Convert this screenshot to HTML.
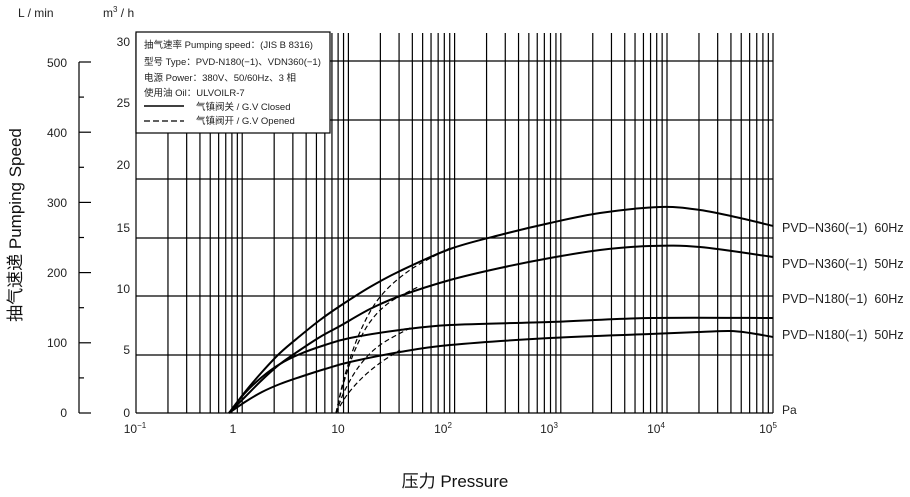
<!DOCTYPE html>
<html><head><meta charset="utf-8"><style>
html,body{margin:0;padding:0;background:#fff;}
svg{display:block;font-family:"Liberation Sans","Noto Sans CJK SC",sans-serif;}
</style></head><body>
<svg id="s" width="910" height="497" viewBox="0 0 910 497" xmlns="http://www.w3.org/2000/svg">
<g id="grid" stroke="#000" stroke-width="1.2" fill="none"></g>
<g stroke="#000" stroke-width="1.2">
<line x1="136" y1="413" x2="773" y2="413"/>
<line x1="136" y1="355" x2="773" y2="355"/>
<line x1="136" y1="296" x2="773" y2="296"/>
<line x1="136" y1="238" x2="773" y2="238"/>
<line x1="136" y1="179" x2="773" y2="179"/>
<line x1="136" y1="120" x2="773" y2="120"/>
<line x1="136" y1="61" x2="773" y2="61"/>
<line x1="79" y1="62" x2="79" y2="413"/>
</g>
<g id="lticks" stroke="#000" stroke-width="1.2"></g>
<g id="curves" stroke="#000" stroke-width="2" fill="none"></g>
<g id="dcurves" stroke="#000" stroke-width="1.2" fill="none" stroke-dasharray="5,3"></g>
<rect x="136" y="32" width="194" height="101" fill="#fff" stroke="#000" stroke-width="1.2"/>
<g font-size="9.5" fill="#222">
<text x="144" y="48">抽气速率 Pumping speed：(JIS B 8316)</text>
<text x="144" y="65">型号 Type：PVD-N180(−1)、VDN360(−1)</text>
<text x="144" y="81">电源 Power：380V、50/60Hz、3 相</text>
<text x="144" y="96">使用油 Oil：ULVOILR-7</text>
<text x="196" y="110">气镇阀关 / G.V Closed</text>
<text x="196" y="124">气镇阀开 / G.V Opened</text>
</g>
<line x1="144" y1="106" x2="184" y2="106" stroke="#000" stroke-width="1.5"/>
<line x1="144" y1="121" x2="184" y2="121" stroke="#000" stroke-width="1.2" stroke-dasharray="6,3"/>
<g font-size="12" fill="#222">
<text x="18" y="17">L / min</text>
<text x="103" y="17">m<tspan font-size="8" dy="-5">3</tspan><tspan dy="5"> / h</tspan></text>
<g text-anchor="end">
<text x="67" y="67">500</text><text x="67" y="137">400</text><text x="67" y="207">300</text>
<text x="67" y="277">200</text><text x="67" y="347">100</text><text x="67" y="417">0</text>
<text x="130" y="46">30</text><text x="130" y="107">25</text><text x="130" y="169">20</text>
<text x="130" y="232">15</text><text x="130" y="293">10</text><text x="130" y="354">5</text>
<text x="130" y="417">0</text>
</g>
<text x="782" y="414">Pa</text>
<g font-size="12.5">
<text x="782" y="232">PVD−N360(−1)&#160;&#160;60Hz</text>
<text x="782" y="268">PVD−N360(−1)&#160;&#160;50Hz</text>
<text x="782" y="303">PVD−N180(−1)&#160;&#160;60Hz</text>
<text x="782" y="339">PVD−N180(−1)&#160;&#160;50Hz</text>
</g>
<g text-anchor="middle">
<text x="135" y="433">10<tspan font-size="8" dy="-5">−1</tspan></text>
<text x="233" y="433">1</text>
<text x="338" y="433">10</text>
<text x="443" y="433">10<tspan font-size="8" dy="-5">2</tspan></text>
<text x="549" y="433">10<tspan font-size="8" dy="-5">3</tspan></text>
<text x="656" y="433">10<tspan font-size="8" dy="-5">4</tspan></text>
<text x="768" y="433">10<tspan font-size="8" dy="-5">5</tspan></text>
</g>
</g>
<text x="455" y="487" font-size="17" text-anchor="middle" fill="#111">压力 Pressure</text>
<text transform="translate(21,225) rotate(-90)" font-size="17" text-anchor="middle" fill="#111">抽气速递 Pumping Speed</text>
</svg>
<script>
var NS="http://www.w3.org/2000/svg";
function el(p,t,a){var e=document.createElementNS(NS,t);for(var k in a)e.setAttribute(k,a[k]);document.getElementById(p).appendChild(e);}
var D=106.2;
for(var d=-1;d<=4;d++)for(var m=1;m<=9;m++){var x=136+D*(d+1+Math.log10(m));el("grid","line",{x1:x,y1:33,x2:x,y2:413});}
el("grid","line",{x1:773,y1:33,x2:773,y2:413});
for(var i=0;i<=10;i++){var y=413-i*35.1;el("lticks","line",{x1:79,y1:y,x2:(i%2==0?91:84),y2:y});}
function cr(p){var s="M"+p[0][0]+","+p[0][1];for(var i=0;i<p.length-1;i++){var p0=p[i-1]||p[i],p1=p[i],p2=p[i+1],p3=p[i+2]||p2;
s+=" C"+(p1[0]+(p2[0]-p0[0])/6)+","+(p1[1]+(p2[1]-p0[1])/6)+" "+(p2[0]-(p3[0]-p1[0])/6)+","+(p2[1]-(p3[1]-p1[1])/6)+" "+p2[0]+","+p2[1];}return s;}
var C=[
[[229,413],[245,392],[262,372],[280,353],[300,336],[320,320],[340,306],[370,287],[400,271],[450,249],[500,235],[550,223],[600,213],[660,207],[700,210],[740,218],[773,226]],
[[229,413],[245,397],[262,380],[280,364],[300,350],[320,337],[340,326],[370,309],[400,296],[450,280],[500,268],[550,258],[600,250],[650,246],[700,247],[773,257]],
[[229,413],[245,393],[262,377],[280,364],[300,354],[325,345],[350,338],[400,330],[450,325],[550,322],[650,318],[773,318]],
[[229,413],[245,402],[262,392],[280,384],[300,377],[325,369],[350,362],[400,352],[450,345],[550,338],[650,334],[700,332],[730,331],[750,333],[773,337]]];
C.forEach(function(p){el("curves","path",{d:cr(p)});});
var Dd=[
[[336,413],[345,375],[360,332],[380,297],[410,270],[450,248]],
[[336,413],[343,385],[355,350],[370,322],[390,302],[420,286]],
[[336,413],[345,390],[360,365],[380,345],[412,327]],
[[336,413],[347,395],[362,378],[380,363],[400,350]]];
Dd.forEach(function(p){el("dcurves","path",{d:cr(p)});});
</script>
</body></html>
